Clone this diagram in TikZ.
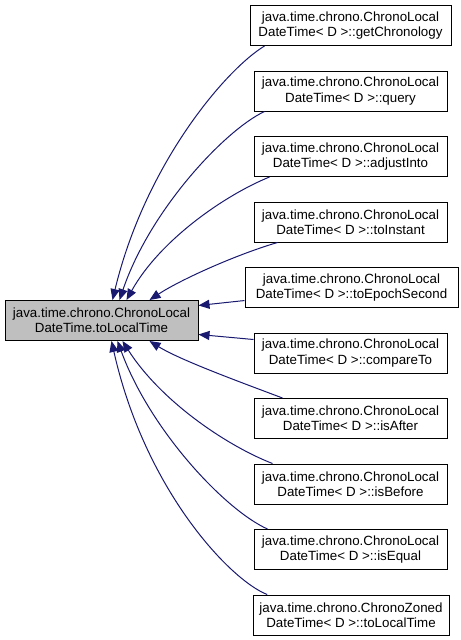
\documentclass[tikz,border=0pt]{standalone}
\usepackage{fontspec}
\setmainfont{Liberation Sans}
\usetikzlibrary{arrows.meta}
\definecolor{edgeblue}{HTML}{191970}
\definecolor{boxgray}{HTML}{BFBFBF}
\begin{document}
\begin{tikzpicture}[x=0.75pt,y=-0.75pt,
  box/.style={draw=black, line width=0.75pt, fill=white, align=center,
    font=\fontsize{10}{11.5}\selectfont, inner sep=0pt, minimum height=30pt},
  wbox/.style={box, minimum width=144.75pt},
  edge/.style={draw=edgeblue, line width=0.75pt, -{Triangle[length=8.25pt,width=6.75pt]}}]
\useasboundingbox (0,0) rectangle (461,640);
\node[wbox, fill=boxgray] (main) at (101.5,320.5) {java.time.chrono.ChronoLocal\\DateTime.toLocalTime};
\node[box, minimum width=150.75pt] (n1) at (350.5,25.5) {java.time.chrono.ChronoLocal\\DateTime< D >::getChronology};
\node[wbox] (n2) at (350.5,91) {java.time.chrono.ChronoLocal\\DateTime< D >::query};
\node[wbox] (n3) at (350.5,156.5) {java.time.chrono.ChronoLocal\\DateTime< D >::adjustInto};
\node[wbox] (n4) at (350.5,222) {java.time.chrono.ChronoLocal\\DateTime< D >::toInstant};
\node[box, minimum width=159.75pt] (n5) at (351.5,287.5) {java.time.chrono.ChronoLocal\\DateTime< D >::toEpochSecond};
\node[wbox] (n6) at (350.5,353) {java.time.chrono.ChronoLocal\\DateTime< D >::compareTo};
\node[wbox] (n7) at (350.5,418.5) {java.time.chrono.ChronoLocal\\DateTime< D >::isAfter};
\node[wbox] (n8) at (350.5,484) {java.time.chrono.ChronoLocal\\DateTime< D >::isBefore};
\node[wbox] (n9) at (350.5,549.5) {java.time.chrono.ChronoLocal\\DateTime< D >::isEqual};
\node[box, minimum width=147pt] (n10) at (351,615) {java.time.chrono.ChronoZoned\\DateTime< D >::toLocalTime};

\draw[edge] ([xshift=11.25pt]n1.south west) .. controls (225,70) and (145,165) .. ([xshift=81pt]main.north west);
\draw[edge] ([xshift=8.25pt]n2.south west) .. controls (225,130) and (150,210) .. ([xshift=86.25pt]main.north west);
\draw[edge] ([xshift=12pt]n3.south west) .. controls (225,195) and (160,240) .. ([xshift=91.5pt]main.north west);
\draw[edge] ([xshift=18pt]n4.south west) .. controls (235,255) and (180,280) .. ([xshift=108.75pt]main.north west);
\draw[edge] ([yshift=5.6pt]n5.south west) -- ([yshift=-4.1pt]main.north east);
\draw[edge] ([yshift=-5.25pt]n6.north west) -- ([yshift=4.9pt]main.south east);
\draw[edge] ([xshift=21.75pt]n7.north west) .. controls (240,382) and (180,360) .. ([xshift=108.75pt]main.south west);
\draw[edge] ([xshift=14.25pt]n8.north west) .. controls (225,445) and (160,400) .. ([xshift=88.5pt]main.south west);
\draw[edge] ([xshift=10.5pt]n9.north west) .. controls (225,510) and (150,430) .. ([xshift=84.75pt]main.south west);
\draw[edge] ([xshift=11pt]n10.north west) .. controls (230,580) and (145,490) .. ([xshift=80.25pt]main.south west);
\end{tikzpicture}
\end{document}
